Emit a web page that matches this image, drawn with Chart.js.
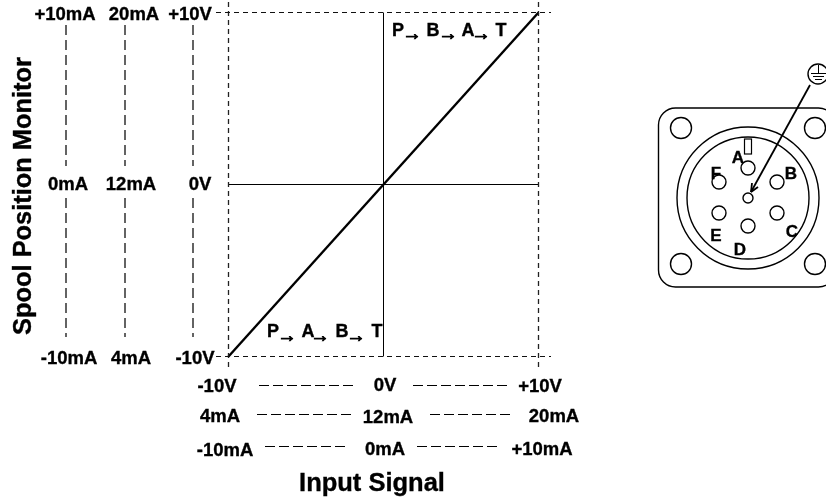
<html>
  <head>
    <script src="https://cdn.jsdelivr.net/npm/chart.js"></script>
    <meta charset="UTF-8" />
    <style>
      body { margin: 0; background: #fff; }
      canvas { display: block; }
    </style>
  </head>
  <body>
    <canvas id="myChart" width="826" height="501"></canvas>
    <script>
      const inputSignal = [-10, 0, 10];
      const spoolPosition = [-10, 0, 10];
      const voltageTicks = ["-10V", "0V", "+10V"];
      const inputCurrentTicks = ["4mA", "12mA", "20mA"];
      const differentialTicks = ["-10mA", "0mA", "+10mA"];
      const monitorVoltageTicks = ["-10V", "0V", "+10V"];
      const monitorCurrentTicks = ["4mA", "12mA", "20mA"];
      const monitorDifferentialTicks = ["-10mA", "0mA", "+10mA"];
      const flowUpper = ["P", "B", "A", "T"];
      const flowLower = ["P", "A", "B", "T"];
      const pinLabels = ["A", "B", "C", "D", "E", "F"];

      const FONT = '"Liberation Sans", Arial, sans-serif';
      const TICK_SIZE = 18.5;

      // the source drawing has heavier letters than plain bold, so add a thin outline
      const text = (ctx, str, x, y, size = TICK_SIZE, heavy = 0.35) => {
        ctx.font = `bold ${size}px ${FONT}`;
        ctx.textAlign = "center";
        ctx.textBaseline = "middle";
        ctx.fillStyle = "#000";
        ctx.strokeStyle = "#000";
        ctx.lineWidth = heavy;
        ctx.fillText(str, x, y);
        ctx.strokeText(str, x, y);
      };

      const line = (ctx, x1, y1, x2, y2, dash = [], width = 1, color = "#000") => {
        ctx.save();
        ctx.setLineDash(dash);
        ctx.lineWidth = width;
        ctx.strokeStyle = color;
        ctx.beginPath();
        ctx.moveTo(x1, y1);
        ctx.lineTo(x2, y2);
        ctx.stroke();
        ctx.restore();
      };

      const circle = (ctx, x, y, r, width = 1.4) => {
        ctx.lineWidth = width;
        ctx.strokeStyle = "#000";
        ctx.beginPath();
        ctx.arc(x, y, r, 0, Math.PI * 2);
        ctx.stroke();
      };

      function drawFlow(ctx, names, xs, arrows, y, arrowY) {
        names.forEach((n, i) => {
          text(ctx, n, xs[i], y, 18);
          if (i < arrows.length) text(ctx, "\u2192", arrows[i], arrowY, 19, 1);
        });
      }

      function drawConnector(ctx) {
        ctx.save();
        ctx.lineWidth = 1.4;
        ctx.strokeStyle = "#000";
        ctx.beginPath();
        ctx.roundRect(658.5, 108, 177, 179, 17);
        ctx.stroke();
        [[681, 128], [815, 128], [681, 264], [815, 264]].forEach(([x, y]) =>
          circle(ctx, x, y, 10.5)
        );
        circle(ctx, 748, 198, 71);
        circle(ctx, 748, 198, 61);
        ctx.lineWidth = 1.2;
        ctx.strokeRect(744.5, 139, 7, 15);
        [[748, 168], [777, 182], [777, 213], [748, 226], [719, 213], [719, 182]].forEach(
          ([x, y]) => circle(ctx, x, y, 7)
        );
        circle(ctx, 748, 198, 5);

        const labelPos = [[738, 158], [791, 174], [792, 232], [740, 250], [716, 236], [716, 174]];
        pinLabels.forEach((p, i) => text(ctx, p, labelPos[i][0], labelPos[i][1], 17));

        // earth pin pointer
        line(ctx, 810, 85, 751, 192, [], 1.8);
        line(ctx, 751, 192, 752, 183, [], 1.8);
        line(ctx, 751, 192, 758, 187, [], 1.8);

        // earth symbol
        circle(ctx, 818, 74, 10);
        line(ctx, 818.5, 65, 818.5, 73);
        line(ctx, 811, 73.5, 826, 73.5);
        line(ctx, 813, 76.5, 824, 76.5);
        line(ctx, 815, 79.5, 822, 79.5);
        ctx.restore();
      }

      const sheetPlugin = {
        id: "sheet",
        afterDatasetsDraw(chart) {
          const { ctx, scales } = chart;
          const xs = inputSignal.map(v => scales.x.getPixelForValue(v));
          const ys = spoolPosition.map(v => scales.y.getPixelForValue(v));

          // dashed limits at +/-10V
          const frameDash = [5, 4];
          [xs[0], xs[2]].forEach(x => line(ctx, x, 2, x, 370, frameDash, 1.3, "#222"));
          [ys[0], ys[2]].forEach(y => line(ctx, 216, y, 551, y, frameDash, 1, "#111"));

          // monitor scales on the left
          const columnDash = [10, 5];
          [66, 125, 193].forEach(x => {
            line(ctx, x, 25, x, 166, columnDash, 1.4, "#222");
            line(ctx, x, 198, x, 337, columnDash, 1.4, "#222");
          });
          const rowY = [359, 185, 15];
          monitorDifferentialTicks.forEach((t, i) => text(ctx, t, [69, 68, 65][i], rowY[i]));
          monitorCurrentTicks.forEach((t, i) => text(ctx, t, [131, 131, 134][i], rowY[i]));
          monitorVoltageTicks.forEach((t, i) => text(ctx, t, [195, 200, 190][i], rowY[i]));

          // input scales underneath
          const rowDash = [10, 4];
          text(ctx, voltageTicks[0], 217, 387);
          text(ctx, voltageTicks[1], 385, 386);
          text(ctx, voltageTicks[2], 540, 387);
          line(ctx, 259, 385.5, 357, 385.5, rowDash);
          line(ctx, 413, 385.5, 511, 385.5, rowDash);

          text(ctx, inputCurrentTicks[0], 220, 417);
          text(ctx, inputCurrentTicks[1], 388, 418);
          text(ctx, inputCurrentTicks[2], 554, 417);
          line(ctx, 257, 414.5, 353, 414.5, rowDash);
          line(ctx, 430, 414.5, 513, 414.5, rowDash);

          text(ctx, differentialTicks[0], 225, 451);
          text(ctx, differentialTicks[1], 385, 450);
          text(ctx, differentialTicks[2], 542, 450);
          line(ctx, 265, 446.5, 347, 446.5, rowDash);
          line(ctx, 417, 446.5, 498, 446.5, rowDash);

          // axis titles
          text(ctx, "Input Signal", 372, 484, 25.5);
          ctx.save();
          ctx.translate(24, 196);
          ctx.rotate(-Math.PI / 2);
          text(ctx, "Spool Position Monitor", 0, 0, 25.4);
          ctx.restore();

          drawFlow(ctx, flowUpper, [398, 433, 468, 501], [412, 448, 481], 31, 35);
          drawFlow(ctx, flowLower, [273, 308, 342, 377], [287, 320, 356], 332, 337);

          drawConnector(ctx);
        },
      };

      new Chart(document.getElementById("myChart"), {
        type: "scatter",
        data: {
          datasets: [
            {
              // valve response
              data: inputSignal.map((x, i) => ({ x, y: spoolPosition[i] })),
              showLine: true,
              borderColor: "#000",
              borderWidth: 2.4,
              pointRadius: 0,
              clip: false,
            },
            {
              // horizontal zero line
              data: inputSignal.map(x => ({ x, y: 0 })),
              showLine: true,
              borderColor: "#000",
              borderWidth: 1,
              pointRadius: 0,
              clip: false,
            },
            {
              // vertical zero line
              data: spoolPosition.map(y => ({ x: 0, y })),
              showLine: true,
              borderColor: "#000",
              borderWidth: 1,
              pointRadius: 0,
              clip: false,
            },
          ],
        },
        options: {
          responsive: false,
          animation: false,
          events: [],
          layout: { padding: { left: 228.5, right: 287.5, top: 12.5, bottom: 144.5 } },
          plugins: { legend: { display: false }, tooltip: { enabled: false } },
          scales: {
            x: { type: "linear", min: -10, max: 10, display: false },
            y: { type: "linear", min: -10, max: 10, display: false },
          },
        },
        plugins: [sheetPlugin],
      });
    </script>
  </body>
</html>
